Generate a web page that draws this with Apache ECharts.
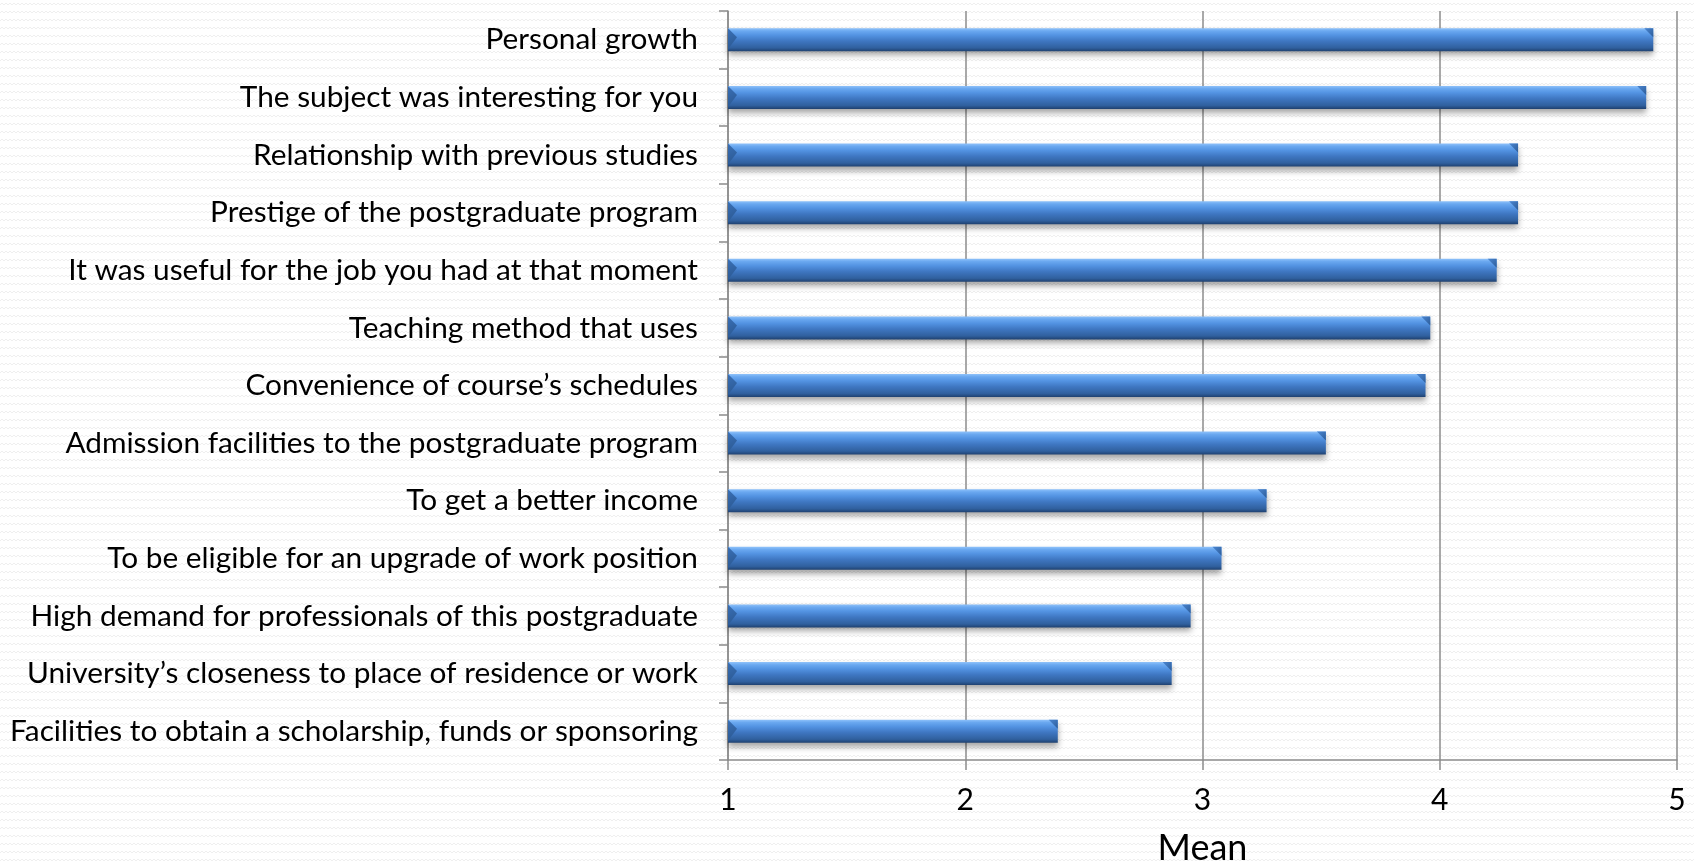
<!DOCTYPE html>
<html>
<head>
<meta charset="utf-8">
<script src="https://cdn.jsdelivr.net/npm/echarts@6/dist/echarts.min.js"></script>
<style>
html,body{margin:0;padding:0;background:#fff;}
#chart{width:1694px;height:866px;}
</style>
</head>
<body>
<div id="chart"></div>
<script>
const categories = [
  "Personal growth",
  "The subject was interesting for you",
  "Relationship with previous studies",
  "Prestige of the postgraduate program",
  "It was useful for the job you had at that moment",
  "Teaching method that uses",
  "Convenience of course\u2019s schedules",
  "Admission facilities to the postgraduate program",
  "To get a better income",
  "To be eligible for an upgrade of work position",
  "High demand for professionals of this postgraduate",
  "University\u2019s closeness to place of residence or work",
  "Facilities to obtain a scholarship, funds or sponsoring"
];
const meanValues = [4.90, 4.87, 4.33, 4.33, 4.24, 3.96, 3.94, 3.52, 3.27, 3.08, 2.95, 2.87, 2.39];
const axisTicks = [1, 2, 3, 4, 5];
const axisTitle = "Mean";

// subtle zigzag background pattern
(function(){
  const c = document.createElement('canvas');
  c.width = 8; c.height = 8;
  const g = c.getContext('2d');
  g.fillStyle = '#ffffff'; g.fillRect(0,0,8,8);
  g.strokeStyle = '#efefef'; g.lineWidth = 1;
  g.beginPath();
  g.moveTo(0,5); g.lineTo(2,3); g.lineTo(4,5); g.lineTo(6,3); g.lineTo(8,5);
  g.stroke();
  document.body.style.background = 'url(' + c.toDataURL() + ') repeat';
})();

const chart = echarts.init(document.getElementById('chart'), null, {renderer:'canvas'});
const fontFam = 'Lato, "Open Sans", sans-serif';
const BAR_W = 23;
chart.setOption({
  backgroundColor: 'transparent',
  animation: false,
  grid: {left: 728, right: 17, top: 11, bottom: 106, containLabel: false, outerBoundsMode: 'none'},
  xAxis: {
    type: 'value',
    min: axisTicks[0], max: axisTicks[axisTicks.length-1], interval: 1,
    startValue: axisTicks[0],
    name: axisTitle, nameLocation: 'middle', nameGap: 70,
    nameTextStyle: {fontFamily: fontFam, fontSize: 36, color: '#000'},
    axisLine: {show: true, lineStyle: {color: '#8c8c8c', width: 1.5}},
    axisTick: {show: true, inside: false, length: 10, lineStyle: {color: '#8c8c8c', width: 1.5}},
    axisLabel: {fontFamily: fontFam, fontSize: 30, color: '#000', margin: 25},
    splitLine: {show: true, lineStyle: {color: '#8c8c8c', width: 1.5}}
  },
  yAxis: {
    type: 'category', data: categories, inverse: true,
    axisLine: {show: true, lineStyle: {color: '#8c8c8c', width: 1.5}},
    axisTick: {show: true, length: 9, lineStyle: {color: '#8c8c8c', width: 1.5}},
    axisLabel: {fontFamily: fontFam, fontSize: 29.8, color: '#000', margin: 30},
    splitLine: {show: false}
  },
  series: [{
    type: 'bar', data: meanValues, barWidth: BAR_W, clip: true,
    itemStyle: {
      color: new echarts.graphic.LinearGradient(0,0,0,1,[
        {offset:0, color:'#8fc2fa'},
        {offset:0.12, color:'#6aa8f0'},
        {offset:0.3, color:'#5393e2'},
        {offset:0.55, color:'#3f77c2'},
        {offset:0.85, color:'#30609e'},
        {offset:1, color:'#1f4170'}
      ]),
      shadowColor: 'rgba(0,0,0,0.35)', shadowBlur: 6, shadowOffsetY: 4
    }
  }, {
    type: 'custom', z: 3, silent: true,
    data: meanValues.map((v, i) => [v, i]),
    encode: {x: 0, y: 1},
    renderItem: function (params, api) {
      const e = api.coord([api.value(0), api.value(1)]);
      const s = api.coord([axisTicks[0], api.value(1)]);
      const top = e[1] - BAR_W / 2, bot = e[1] + BAR_W / 2;
      const b = 9;
      return {
        type: 'group',
        children: [
          {type: 'polygon', shape: {points: [[e[0] - b, top], [e[0], top], [e[0], top + b]]},
           style: {fill: new echarts.graphic.LinearGradient(0,0,1,1,[{offset:0,color:'#4a86d2'},{offset:1,color:'#2d5c98'}])}},
          {type: 'polygon', shape: {points: [[s[0], top], [s[0] + b, top + b], [s[0], bot - 2]]},
           style: {fill: new echarts.graphic.LinearGradient(0,0,1,1,[{offset:0,color:'#3a70b6'},{offset:1,color:'#2a5790'}])}}
        ]
      };
    }
  }]
});
</script>
</body>
</html>
